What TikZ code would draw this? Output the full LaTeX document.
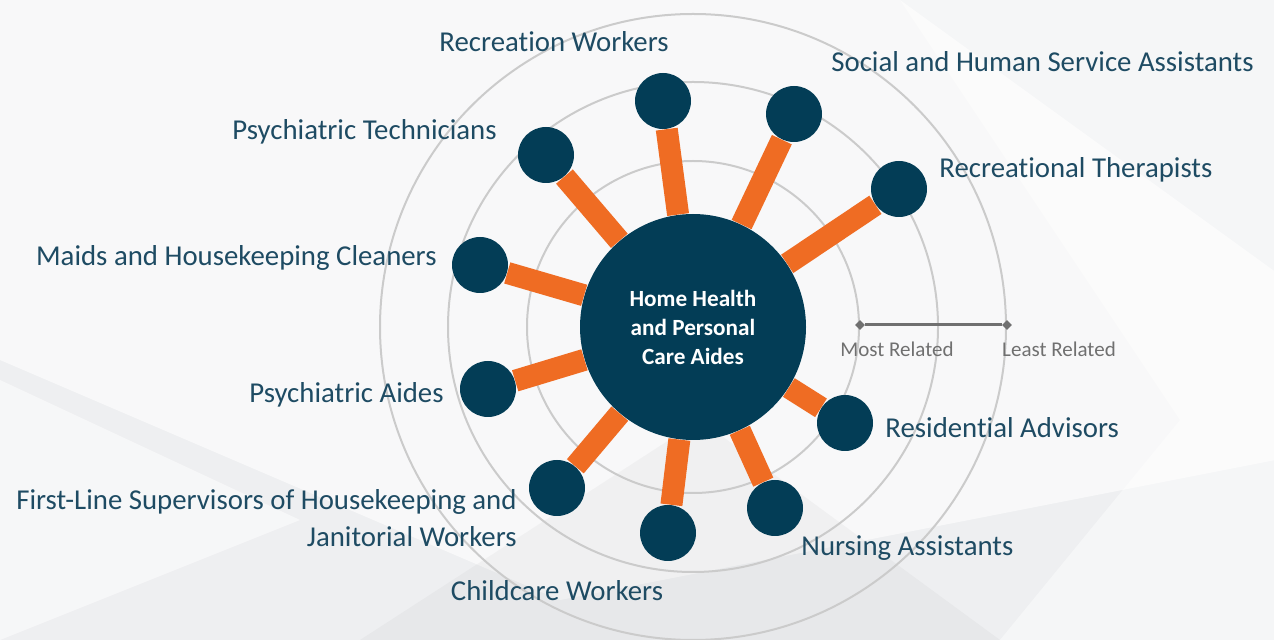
\documentclass[tikz,border=0pt]{standalone}
\usepackage{fontspec}
\setmainfont{Carlito}[Ligatures=NoCommon]
\usetikzlibrary{shapes.geometric}
\definecolor{hubblue}{HTML}{033D56}
\definecolor{spokeorange}{HTML}{EF6C23}
\definecolor{labeltxt}{HTML}{1E4B63}
\definecolor{ringgray}{HTML}{CBCBCB}
\definecolor{legendgray}{HTML}{707070}
\definecolor{bggray}{HTML}{EEEFF1}
\tikzset{
  hubnode/.style={circle,fill=hubblue,text=white,minimum size=113pt,inner sep=0pt,align=center,
    font=\fontsize{11.6}{14.5}\selectfont\bfseries},
  occnode/.style={circle,fill=hubblue,minimum size=28pt,inner sep=0pt},
  spoke/.style={spokeorange,line width=11pt},
  ring/.style={ringgray,line width=1pt},
  occlabel/.style={text=labeltxt,font=\fontsize{14.4}{18.5}\selectfont,inner sep=0pt},
  legendtxt/.style={text=legendgray,font=\fontsize{10.5}{12}\selectfont,inner sep=0pt},
  legenddot/.style={diamond,fill=legendgray,minimum size=5pt,inner sep=0pt}
}
\begin{document}
\begin{tikzpicture}[x=0.5pt,y=-0.5pt]
  \useasboundingbox (0,0) rectangle (1274,640);
  % background
  \begin{scope}
    \clip (0,0) rectangle (1274,640);
    \fill[bggray] (0,0) rectangle (1274,640);
    \fill[white,opacity=0.6] (0,0) -- (900,0) -- (1480,420) -- (560,600) -- (0,360) -- cycle;
    \fill[white,opacity=0.45] (900,0) -- (1274,0) -- (1274,640) -- (1000,640) -- (1180,420) -- cycle;
    \fill[white,opacity=0.5] (0,380) -- (300,520) -- (0,640) -- cycle;
    \fill[gray,opacity=0.06] (360,640) -- (700,420) -- (1000,640) -- cycle;
  \end{scope}

  % rings
  \coordinate (c) at (693,327);
  \draw[ring] (c) circle[radius=83pt];
  \draw[ring] (c) circle[radius=122.5pt];
  \draw[ring] (c) circle[radius=156.5pt];

  % occupations
  \node[occnode] (rw) at (663,101) {};
  \node[occnode] (shsa) at (794,114) {};
  \node[occnode] (rt) at (899,189) {};
  \node[occnode] (pt) at (546,155) {};
  \node[occnode] (mhc) at (480,265) {};
  \node[occnode] (pa) at (488,389) {};
  \node[occnode] (fls) at (557,488) {};
  \node[occnode] (cw) at (668,533) {};
  \node[occnode] (na) at (775,508) {};
  \node[occnode] (ra) at (845,423) {};

  \node[hubnode] (hub) at (c) {Home Health\\and Personal\\Care Aides};

  \foreach \o in {rw,shsa,rt,pt,mhc,pa,fls,cw,na,ra}
    \draw[spoke] (hub) -- (\o);

  % labels
  \node[occlabel] (lrw) at (554,42) {Recreation Workers};
  \node[occlabel,anchor=west] (lshsa) at (831,62) {Social and Human Service Assistants};
  \node[occlabel,anchor=west] (lrt) at (939,170) {Recreational Therapists};
  \node[occlabel,anchor=east] (lpt) at (497,132) {Psychiatric Technicians};
  \node[occlabel,anchor=east] (lmhc) at (437,258) {Maids and Housekeeping Cleaners};
  \node[occlabel,anchor=east] (lpa) at (444,395) {Psychiatric Aides};
  \node[occlabel,anchor=east,align=right] (lfls) at (517,518)
    {First-Line Supervisors of Housekeeping and\\Janitorial Workers};
  \node[occlabel] (lcw) at (557,591) {Childcare Workers};
  \node[occlabel,anchor=west] (lna) at (801,548) {Nursing Assistants};
  \node[occlabel,anchor=west] (lra) at (885,428) {Residential Advisors};

  % legend
  \node[legenddot] (most) at (860,325) {};
  \node[legenddot] (least) at (1007,325) {};
  \draw[legendgray,line width=1.5pt] (most) -- (least);
  \node[legendtxt] (lmost) at (897,349) {Most Related};
  \node[legendtxt] (lleast) at (1059,349) {Least Related};
\end{tikzpicture}
\end{document}
